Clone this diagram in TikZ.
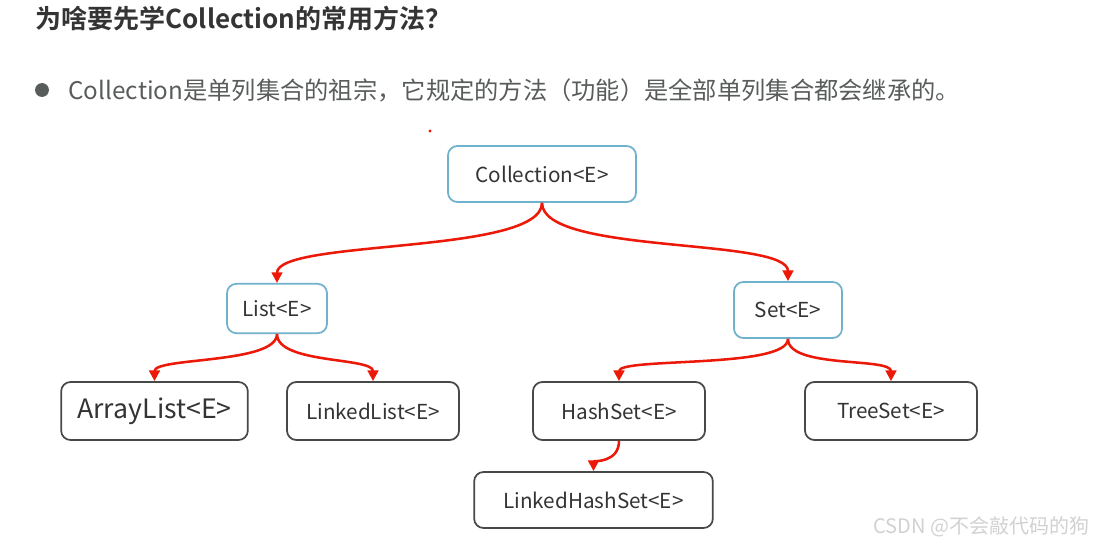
\documentclass[tikz,border=0pt]{standalone}
\usepackage{fontspec}
\setmainfont{Noto Sans CJK SC}[BoldFont={Noto Sans CJK SC Bold}]
\usetikzlibrary{arrows.meta}
\definecolor{boxblue}{RGB}{112,178,204}
\definecolor{boxgray}{RGB}{72,72,72}
\definecolor{linkred}{RGB}{236,24,8}
\definecolor{txtdark}{RGB}{52,52,52}
\definecolor{txtgray}{RGB}{88,92,90}
\tikzset{every picture/.style={line width=0.75pt}}
\tikzset{
  ifacebox/.style={draw=boxblue,line width=1.3pt,rounded corners=7pt,fill=white,text=txtdark,font=\fontsize{15.5}{18}\selectfont,inner sep=0pt},
  implbox/.style={draw=boxgray,line width=1.3pt,rounded corners=7pt,fill=white,text=txtdark,font=\fontsize{15.5}{18}\selectfont,inner sep=0pt},
  redlink/.style={draw=linkred,line width=1.9pt,-{Triangle[length=8pt,width=8pt]}}
}

\begin{document}
\begin{tikzpicture}[x=0.75pt,y=0.75pt,yscale=-1,xscale=1]
\useasboundingbox (0,0) rectangle (1097,545);

% Text Node
\node[anchor=west,inner sep=0pt,text=txtdark,font=\fontsize{19.5}{22}\selectfont\bfseries] (title) at (35,19) {为啥要先学Collection的常用方法？};
%Shape: Circle [bullet]
\fill[txtgray] (42,90) circle (5.2pt) coordinate (dot);
% Text Node
\node[anchor=west,inner sep=0pt,text=txtgray,font=\fontsize{18.2}{20}\selectfont] (intro) at (68,90) {Collection是单列集合的祖宗，它规定的方法（功能）是全部单列集合都会继承的。};
%Shape: Circle [stray dot]
\fill[linkred] (430,131) circle (1.2pt) coordinate (speck);

% Interface nodes
\node[ifacebox,minimum width=141pt,minimum height=42pt] (coll) at (542,174) {Collection<E>};
\node[ifacebox,minimum width=75pt,minimum height=37pt] (list) at (277,308.5) {List<E>};
\node[ifacebox,minimum width=81pt,minimum height=42pt] (set) at (788,310) {Set<E>};

% Implementation nodes
\node[implbox,minimum width=140pt,minimum height=43.5pt,font=\fontsize{20}{22}\selectfont] (arrlist) at (154.5,411) {ArrayList<E>};
\node[implbox,minimum width=129pt,minimum height=43.5pt] (lnklist) at (373,411) {LinkedList<E>};
\node[implbox,minimum width=129pt,minimum height=43.5pt] (hashset) at (619,411) {HashSet<E>};
\node[implbox,minimum width=129pt,minimum height=43.5pt] (treeset) at (891,411) {TreeSet<E>};
\node[implbox,minimum width=179pt,minimum height=42pt] (lnkhash) at (593.5,500) {LinkedHashSet<E>};

% Links
\draw[redlink] (coll.south) .. controls +(0,52) and +(0,-44) .. (list.north);
\draw[redlink] (coll.south) .. controls +(0,52) and +(0,-44) .. (set.north);
\draw[redlink] (list.south) .. controls +(0,30) and +(0,-24) .. (arrlist.north);
\draw[redlink] (list.south) .. controls +(0,30) and +(0,-24) .. (lnklist.north);
\draw[redlink] (set.south) .. controls +(0,30) and +(0,-24) .. (hashset.north);
\draw[redlink] (set.south) .. controls +(0,30) and +(0,-24) .. (treeset.north);
\draw[redlink] (hashset.south) .. controls +(0,22) and +(0,-10) .. (lnkhash.north);

% Text Node
\node[anchor=east,inner sep=0pt,text=black!18,font=\fontsize{15}{17}\selectfont] (mark) at (1090,527) {CSDN @不会敲代码的狗};

\end{tikzpicture}
\end{document}
